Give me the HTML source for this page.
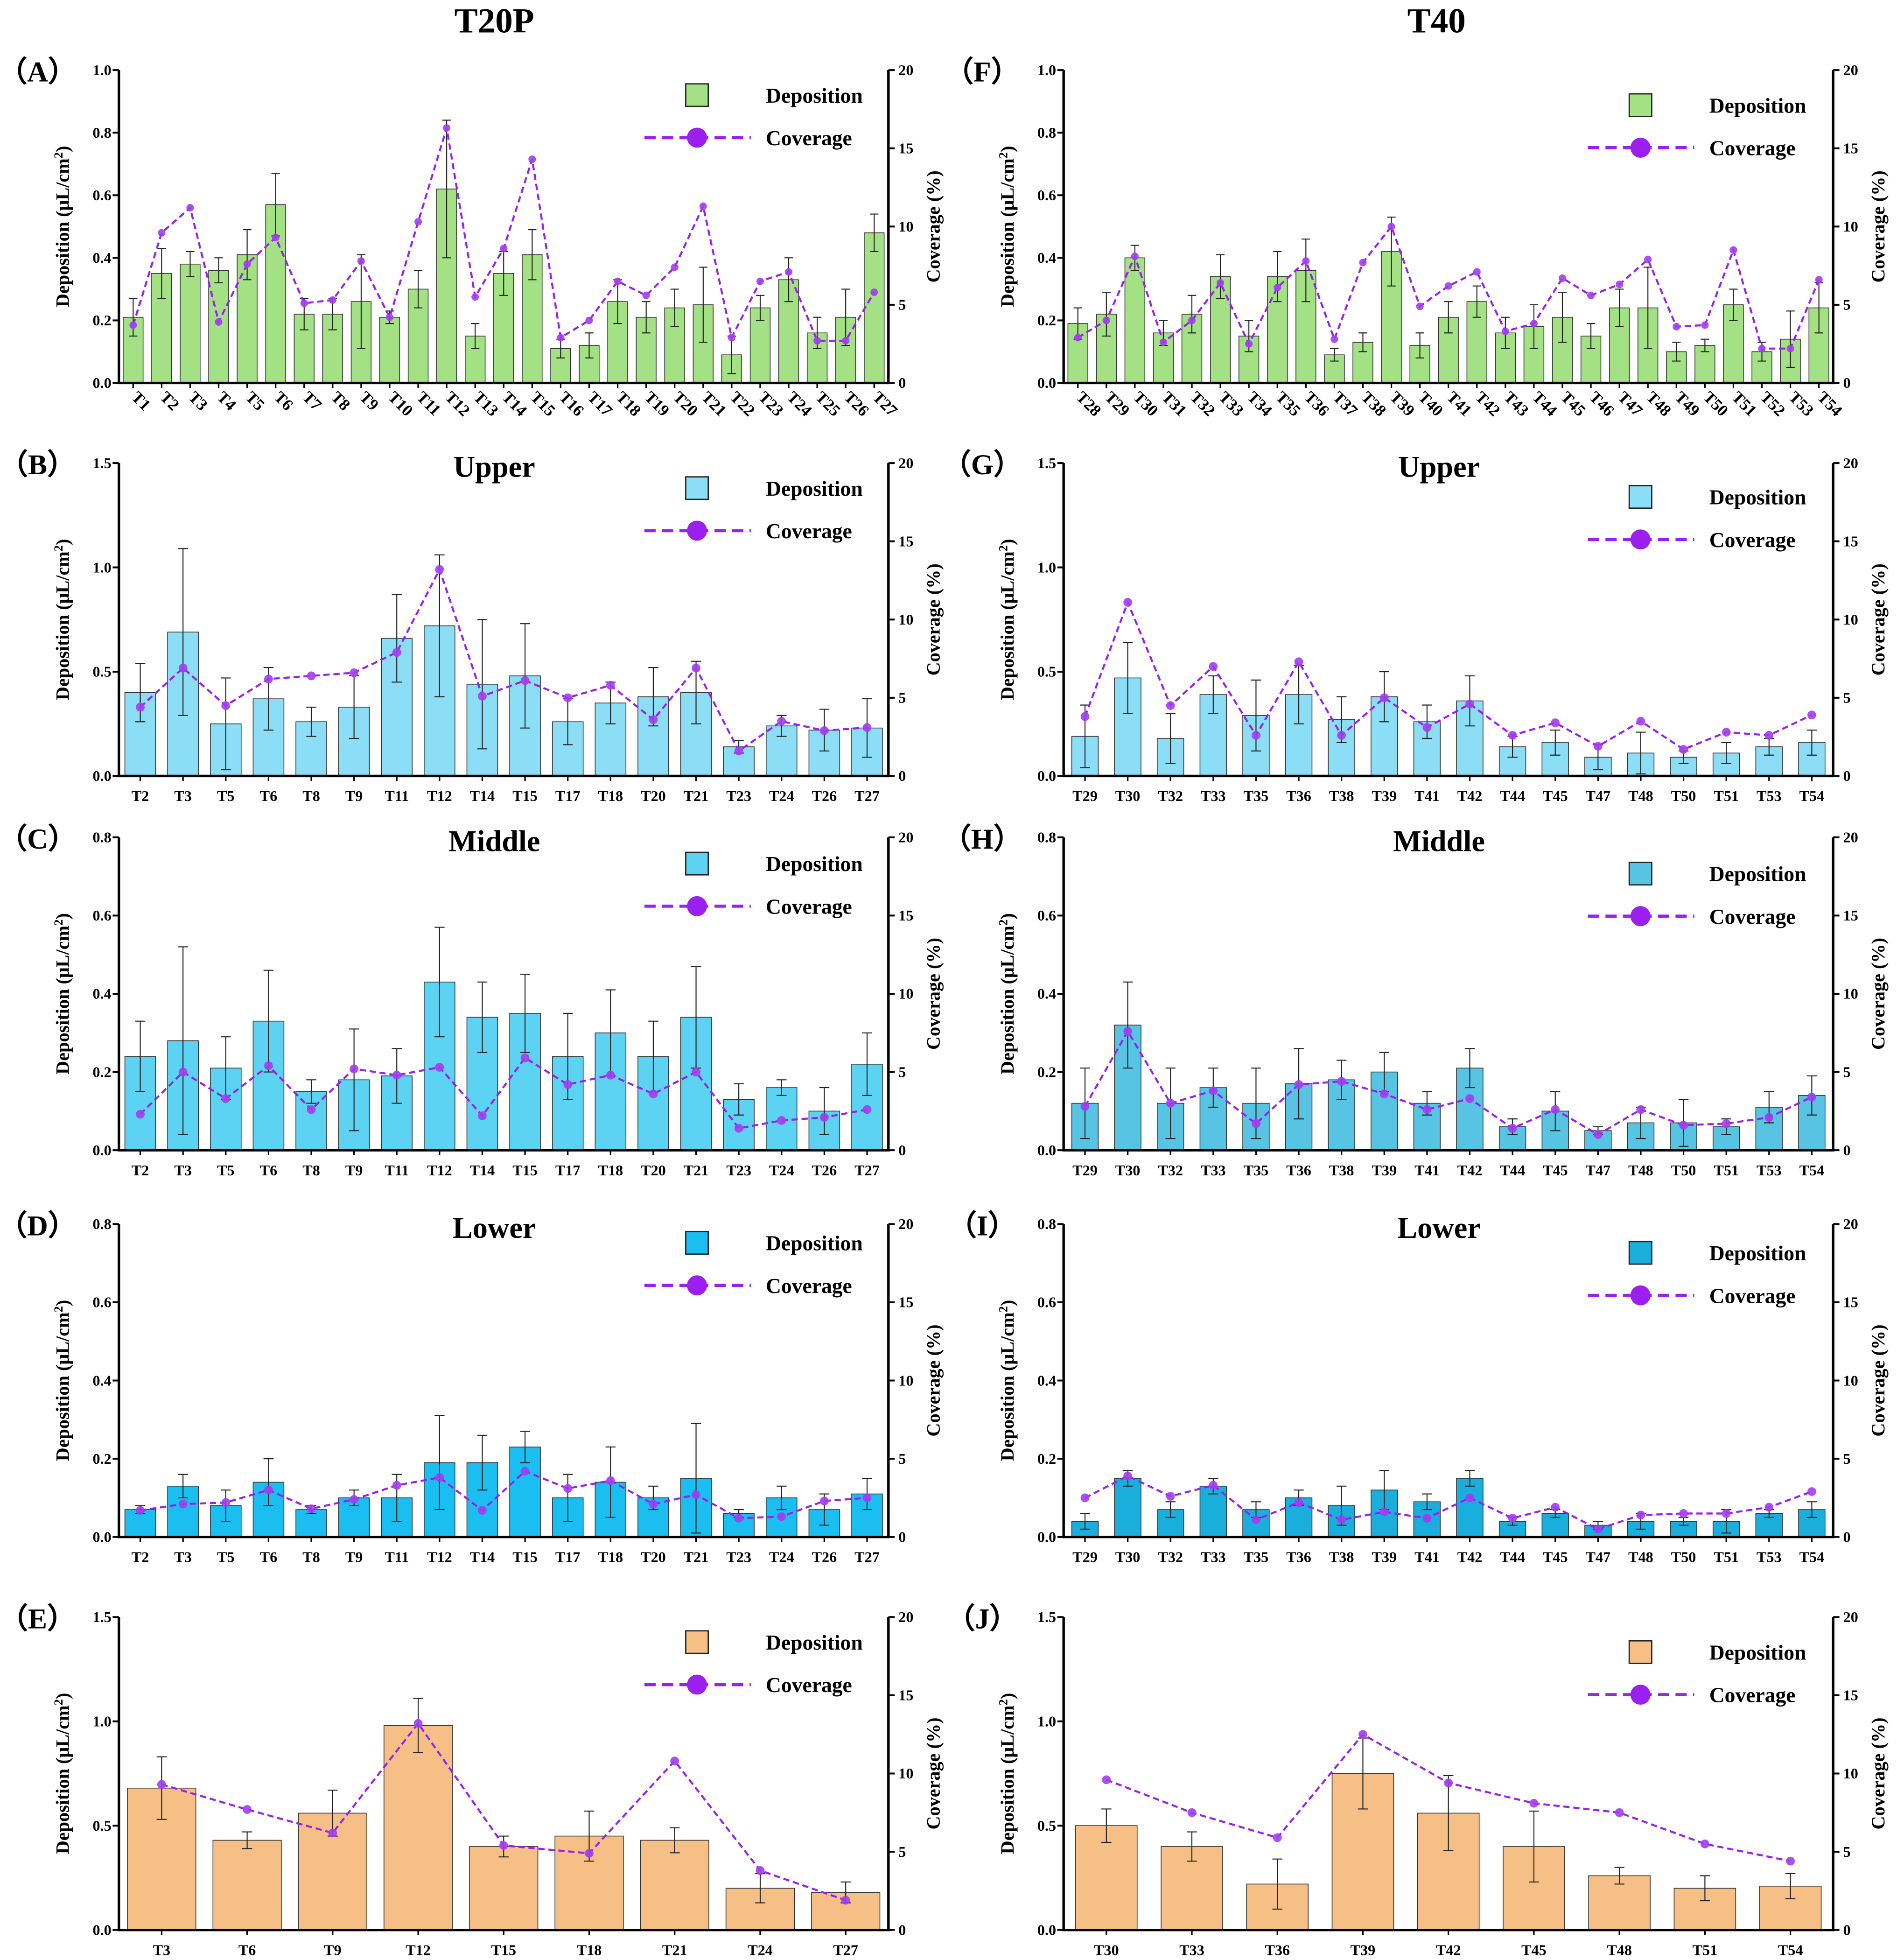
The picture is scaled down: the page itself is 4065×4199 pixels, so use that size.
<!DOCTYPE html>
<html><head><meta charset="utf-8"><style>
html,body{margin:0;padding:0;background:#fff;}
svg{display:block;font-family:"Liberation Serif","DejaVu Serif",serif;font-weight:bold;}
</style></head><body>
<svg id="fig" xmlns="http://www.w3.org/2000/svg" width="4065" height="4199" viewBox="0 0 1516 1566">
<rect width="1516" height="1566" fill="#fff"/>
<text x="395" y="26" font-size="28" text-anchor="middle">T20P</text>
<text x="1148" y="26" font-size="28" text-anchor="middle">T40</text>
</svg>
<script>
// ---- data ----
const catsA = Array.from({length:27},(_,i)=>'T'+(i+1));
const depA = [0.21,0.35,0.38,0.36,0.41,0.57,0.22,0.22,0.26,0.21,0.30,0.62,0.15,0.35,0.41,0.11,0.12,0.26,0.21,0.24,0.25,0.09,0.24,0.33,0.16,0.21,0.48];
const errA = [0.06,0.08,0.04,0.04,0.08,0.10,0.05,0.05,0.15,0.02,0.06,0.22,0.04,0.07,0.08,0.03,0.04,0.07,0.05,0.06,0.12,0.06,0.04,0.07,0.05,0.09,0.06];
const covA = [3.7,9.6,11.2,3.9,7.6,9.3,5.1,5.3,7.8,4.2,10.3,16.3,5.5,8.6,14.3,2.9,4.0,6.5,5.6,7.4,11.3,2.9,6.5,7.1,2.7,2.7,5.8];

const catsF = Array.from({length:27},(_,i)=>'T'+(i+28));
const depF = [0.19,0.22,0.40,0.16,0.22,0.34,0.15,0.34,0.36,0.09,0.13,0.42,0.12,0.21,0.26,0.16,0.18,0.21,0.15,0.24,0.24,0.10,0.12,0.25,0.10,0.14,0.24];
const errF = [0.05,0.07,0.04,0.04,0.06,0.07,0.05,0.08,0.10,0.02,0.03,0.11,0.04,0.05,0.05,0.05,0.07,0.08,0.04,0.06,0.13,0.03,0.02,0.05,0.03,0.09,0.08];
const covF = [2.9,4.0,8.1,2.6,4.0,6.4,2.5,6.1,7.8,2.8,7.7,10.0,4.9,6.2,7.1,3.3,3.8,6.7,5.6,6.3,7.9,3.6,3.7,8.5,2.2,2.2,6.6];

const catsL = ['T2','T3','T5','T6','T8','T9','T11','T12','T14','T15','T17','T18','T20','T21','T23','T24','T26','T27'];
const catsR = ['T29','T30','T32','T33','T35','T36','T38','T39','T41','T42','T44','T45','T47','T48','T50','T51','T53','T54'];

const depB = [0.40,0.69,0.25,0.37,0.26,0.33,0.66,0.72,0.44,0.48,0.26,0.35,0.38,0.40,0.14,0.24,0.22,0.23];
const errB = [0.14,0.40,0.22,0.15,0.07,0.15,0.21,0.34,0.31,0.25,0.11,0.10,0.14,0.15,0.03,0.05,0.10,0.14];
const covB = [4.4,6.9,4.5,6.2,6.4,6.6,7.9,13.2,5.1,6.1,5.0,5.8,3.6,6.9,1.6,3.5,2.9,3.1];

const depG = [0.19,0.47,0.18,0.39,0.29,0.39,0.27,0.38,0.26,0.36,0.14,0.16,0.09,0.11,0.09,0.11,0.14,0.16];
const errG = [0.15,0.17,0.12,0.09,0.17,0.14,0.11,0.12,0.08,0.12,0.05,0.06,0.06,0.10,0.03,0.05,0.04,0.06];
const covG = [3.8,11.1,4.5,7.0,2.6,7.3,2.6,5.0,3.1,4.6,2.6,3.4,1.9,3.5,1.7,2.8,2.6,3.9];

const depC = [0.24,0.28,0.21,0.33,0.15,0.18,0.19,0.43,0.34,0.35,0.24,0.30,0.24,0.34,0.13,0.16,0.10,0.22];
const errC = [0.09,0.24,0.08,0.13,0.03,0.13,0.07,0.14,0.09,0.10,0.11,0.11,0.09,0.13,0.04,0.02,0.06,0.08];
const covC = [2.3,5.0,3.3,5.4,2.6,5.2,4.8,5.3,2.2,5.9,4.2,4.8,3.6,5.0,1.4,1.9,2.1,2.6];

const depH = [0.12,0.32,0.12,0.16,0.12,0.17,0.18,0.20,0.12,0.21,0.06,0.10,0.05,0.07,0.07,0.06,0.11,0.14];
const errH = [0.09,0.11,0.09,0.05,0.09,0.09,0.05,0.05,0.03,0.05,0.02,0.05,0.01,0.04,0.06,0.02,0.04,0.05];
const covH = [2.8,7.6,3.0,3.8,1.7,4.2,4.4,3.6,2.6,3.3,1.4,2.6,1.0,2.6,1.6,1.7,2.1,3.4];

const depD = [0.07,0.13,0.08,0.14,0.07,0.10,0.10,0.19,0.19,0.23,0.10,0.14,0.10,0.15,0.06,0.10,0.07,0.11];
const errD = [0.01,0.03,0.04,0.06,0.01,0.02,0.06,0.12,0.07,0.04,0.06,0.09,0.03,0.14,0.01,0.03,0.04,0.04];
const covD = [1.7,2.1,2.2,3.0,1.8,2.4,3.3,3.8,1.7,4.2,3.1,3.6,2.1,2.7,1.2,1.3,2.3,2.5];

const depI = [0.04,0.15,0.07,0.13,0.07,0.10,0.08,0.12,0.09,0.15,0.04,0.06,0.03,0.04,0.04,0.04,0.06,0.07];
const errI = [0.02,0.02,0.02,0.02,0.02,0.02,0.05,0.05,0.02,0.02,0.01,0.01,0.01,0.02,0.01,0.03,0.01,0.02];
const covI = [2.5,3.9,2.6,3.3,1.1,2.2,1.1,1.6,1.2,2.5,1.2,1.9,0.5,1.4,1.5,1.5,1.9,2.9];

const catsE = ['T3','T6','T9','T12','T15','T18','T21','T24','T27'];
const depE = [0.68,0.43,0.56,0.98,0.40,0.45,0.43,0.20,0.18];
const errE = [0.15,0.04,0.11,0.13,0.05,0.12,0.06,0.07,0.05];
const covE = [9.3,7.7,6.2,13.2,5.4,4.9,10.8,3.8,1.9];

const catsJ = ['T30','T33','T36','T39','T42','T45','T48','T51','T54'];
const depJ = [0.50,0.40,0.22,0.75,0.56,0.40,0.26,0.20,0.21];
const errJ = [0.08,0.07,0.12,0.17,0.18,0.17,0.04,0.06,0.06];
const covJ = [9.6,7.5,5.9,12.5,9.4,8.1,7.5,5.5,4.4];

const ticks10 = ['0.0','0.2','0.4','0.6','0.8','1.0'];
const ticks15 = ['0.0','0.5','1.0','1.5'];
const ticks08 = ['0.0','0.2','0.4','0.6','0.8'];
const ticksCov = ['0','5','10','15','20'];

// ---- drawing ----
const NS='http://www.w3.org/2000/svg';
const svg=document.getElementById('fig');
function mk(tag,attrs,parent,text){const e=document.createElementNS(NS,tag);for(const k in attrs)e.setAttribute(k,attrs[k]);if(text!==undefined)e.textContent=text;(parent||svg).appendChild(e);return e;}

function panel(o){
  const g=mk('g',{});
  
  
  const x0=o.x0,x1=o.x0+615,yb=o.yb,yt=o.yb-250;
  const ymax=o.ymax;
  const ys=v=>yb-v/ymax*250;
  const yc=v=>yb-v/20*250;
  const n=o.cats.length,bw=615/n;
  const xc=i=>x0+bw*(i+0.5);
  o.dep.forEach((v,i)=>{
    const w=bw*o.bf;
    const r=mk('rect',{x:xc(i)-w/2,y:ys(v),width:w,height:yb-ys(v),fill:o.color,stroke:'#333','stroke-width':0.6},g);
    
    
    const e=o.err[i];const cw=Math.min(8,bw*0.3);
    const eb=mk('path',{d:`M${xc(i)},${ys(v-e)}V${ys(v+e)}M${xc(i)-cw/2},${ys(v+e)}H${xc(i)+cw/2}M${xc(i)-cw/2},${ys(v-e)}H${xc(i)+cw/2}`,stroke:'#222','stroke-width':0.8,fill:'none'},g);
    
    
  });
  const pts=o.cov.map((c,i)=>xc(i)+','+yc(c)).join(' ');
  const ln=mk('polyline',{points:pts,fill:'none',stroke:'#9a1ff0','stroke-width':1.6,'stroke-dasharray':'5,3'},g);
  
  
  o.cov.forEach((c,i)=>{
    const d=mk('circle',{cx:xc(i),cy:yc(c),r:o.dot,fill:'#a33cf0',opacity:0.9},g);
    
    
  });
  const ax=mk('path',{d:`M${x0},${yt}V${yb}H${x1}V${yt}`,stroke:'#000','stroke-width':2,fill:'none'},g);
  
  
  o.ticks.forEach((t,i)=>{
    const y=yb-i*250/(o.ticks.length-1);
    mk('line',{x1:x0-5,x2:x0,y1:y,y2:y,stroke:'#000','stroke-width':1.5},g);
    const tl=mk('text',{x:x0-6,y:y+4,'font-size':12,'text-anchor':'end'},g,t);
    
    
  });
  ticksCov.forEach((t,i)=>{
    const y=yb-i*62.5;
    mk('line',{x1:x1,x2:x1+5,y1:y,y2:y,stroke:'#000','stroke-width':1.5},g);
    const tl=mk('text',{x:x1+8,y:y+4,'font-size':12},g,t);
    
    
  });
  o.cats.forEach((c,i)=>{
    mk('line',{x1:xc(i),x2:xc(i),y1:yb,y2:yb+4,stroke:'#000','stroke-width':1.2},g);
    let t;
    if(o.rot){t=mk('text',{x:xc(i)-2,y:yb+12,'font-size':13,transform:`rotate(45 ${xc(i)-2} ${yb+12})`,'text-anchor':'start'},g,c);}
    else{t=mk('text',{x:xc(i),y:yb+20,'font-size':12,'text-anchor':'middle'},g,c);}
    
    
  });
  const ym=yb-125;
  const lt=mk('text',{x:x0-40,y:ym,'font-size':15,'text-anchor':'middle',transform:`rotate(-90 ${x0-40} ${ym})`},g);
  
  
  lt.innerHTML='Deposition (μL/cm<tspan dy="-5" font-size="10">2</tspan><tspan dy="5">)</tspan>';
  const rt=mk('text',{x:x1+41,y:ym,'font-size':15,'text-anchor':'middle',transform:`rotate(-90 ${x1+41} ${ym})`},g,'Coverage (%)');
  
  
  const lb=mk('text',{x:x0-65,y:yt+9,'font-size':23,'text-anchor':'middle'},g,'（'+o.id+'）');
  
  
  if(o.sub){const s=mk('text',{x:x0+300,y:yt+11,'font-size':24,'text-anchor':'middle'},g,o.sub);
    }
  const lx=o.lx,ly=o.ly;
  const lg=mk('g',{},g);
  
  
  mk('rect',{x:lx-9,y:ly-9,width:18,height:18,fill:o.color,stroke:'#222','stroke-width':1},lg);
  mk('text',{x:lx+55,y:ly+6,'font-size':17},lg,'Deposition');
  mk('line',{x1:lx-42,x2:lx+43,y1:ly+34,y2:ly+34,stroke:'#9a1ff0','stroke-width':2.5,'stroke-dasharray':'9,5'},lg);
  mk('circle',{cx:lx,cy:ly+34,r:8,fill:'#9a1ff0'},lg);
  mk('text',{x:lx+55,y:ly+40,'font-size':17},lg,'Coverage');
}
const green='#a3e184',lblue='#8cddf6';
panel({id:'A',x0:95,yb:306,ymax:1.0,ticks:ticks10,cats:catsA,dep:depA,err:errA,cov:covA,color:green,bf:0.7,dot:3,rot:true,lx:557,ly:76});
panel({id:'F',x0:850,yb:306,ymax:1.0,ticks:ticks10,cats:catsF,dep:depF,err:errF,cov:covF,color:green,bf:0.7,dot:3,rot:true,lx:1311,ly:84});
panel({id:'B',x0:95,yb:620,ymax:1.5,ticks:ticks15,cats:catsL,dep:depB,err:errB,cov:covB,color:lblue,bf:0.72,dot:3.5,sub:'Upper',lx:557,ly:390});
panel({id:'G',x0:850,yb:620,ymax:1.5,ticks:ticks15,cats:catsR,dep:depG,err:errG,cov:covG,color:lblue,bf:0.62,dot:3.5,sub:'Upper',lx:1311,ly:397});
panel({id:'C',x0:95,yb:919,ymax:0.8,ticks:ticks08,cats:catsL,dep:depC,err:errC,cov:covC,color:'#5cd3f2',bf:0.72,dot:3.5,sub:'Middle',lx:557,ly:690});
panel({id:'H',x0:850,yb:919,ymax:0.8,ticks:ticks08,cats:catsR,dep:depH,err:errH,cov:covH,color:'#57c4e4',bf:0.62,dot:3.5,sub:'Middle',lx:1311,ly:698});
panel({id:'D',x0:95,yb:1228,ymax:0.8,ticks:ticks08,cats:catsL,dep:depD,err:errD,cov:covD,color:'#1bbef1',bf:0.72,dot:3.5,sub:'Lower',lx:557,ly:993});
panel({id:'I',x0:850,yb:1228,ymax:0.8,ticks:ticks08,cats:catsR,dep:depI,err:errI,cov:covI,color:'#1aaedd',bf:0.62,dot:3.5,sub:'Lower',lx:1311,ly:1001});
panel({id:'E',x0:95,yb:1542,ymax:1.5,ticks:ticks15,cats:catsE,dep:depE,err:errE,cov:covE,color:'#f5bf86',bf:0.8,dot:3.5,lx:557,ly:1312});
panel({id:'J',x0:850,yb:1542,ymax:1.5,ticks:ticks15,cats:catsJ,dep:depJ,err:errJ,cov:covJ,color:'#f5bf86',bf:0.72,dot:3.5,lx:1311,ly:1320});
</script>
</body></html>
